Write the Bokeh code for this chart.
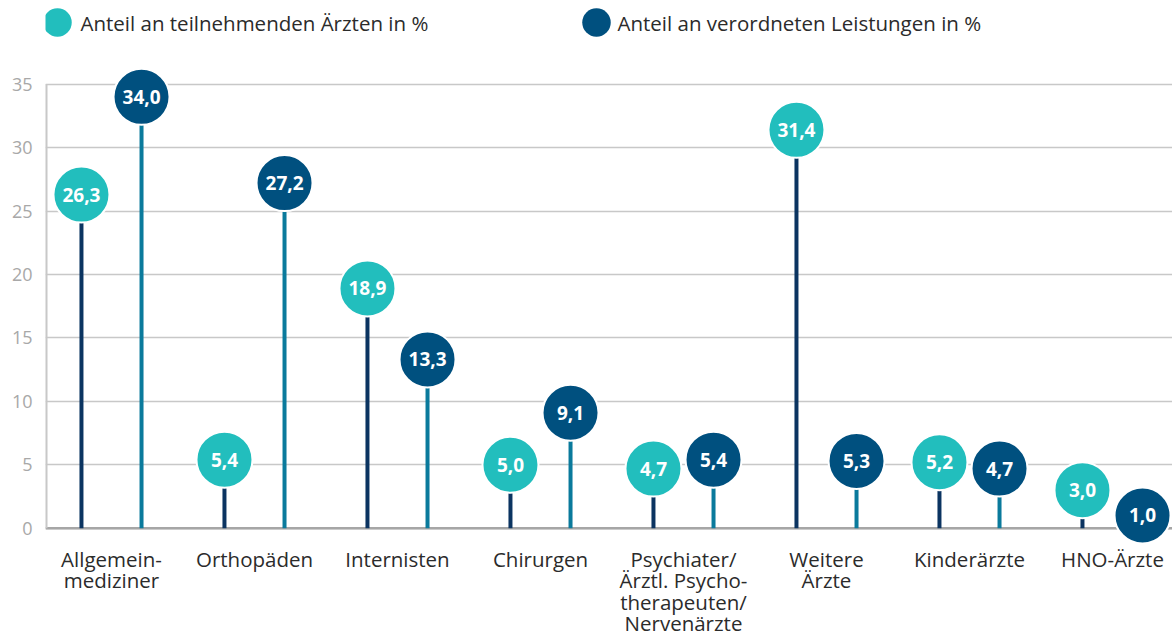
from bokeh.plotting import figure
from bokeh.models import FixedTicker, Range1d, Span
from bokeh.layouts import column
from bokeh.embed import file_html
from bokeh.resources import INLINE
from bokeh.core.properties import value
import numpy as np

# ---------------- data ----------------
categories = [
    "Allgemein-\nmediziner",
    "Orthopäden",
    "Internisten",
    "Chirurgen",
    "Psychiater/\nÄrztl. Psycho-\ntherapeuten/\nNervenärzte",
    "Weitere\nÄrzte",
    "Kinderärzte",
    "HNO-Ärzte",
]
anteil_aerzte = [26.3, 5.4, 18.9, 5.0, 4.7, 31.4, 5.2, 3.0]
anteil_leistungen = [34.0, 27.2, 13.3, 9.1, 5.4, 5.3, 4.7, 1.0]
series_names = ["Anteil an teilnehmenden Ärzten in %", "Anteil an verordneten Leistungen in %"]
y_ticks = [0, 5, 10, 15, 20, 25, 30, 35]

# ---------------- style ----------------
TEAL = "#22BEBD"
NAVY = "#00507F"
STEM_DARK = "#0B3461"
STEM_TEAL = "#0A7A9C"
FONT = "Open Sans"
TEXT = "#2B2B2B"

idx = np.arange(len(categories))
offset = 0.21
x_a = idx - offset
x_l = idx + offset

fmt = lambda v: f"{v:.1f}".replace(".", ",")

x_start, x_end = -0.4615, 7.4196
y_start, y_end = -1.286, 37.26

p = figure(
    width=1172, height=594,
    frame_width=1127, frame_height=489,
    x_range=Range1d(x_start, x_end), y_range=Range1d(y_start, y_end),
    output_backend="svg", toolbar_location=None,
    min_border_left=45, min_border_right=0, min_border_top=10, min_border_bottom=95,
)
p.outline_line_color = None
p.background_fill_color = "white"

# axes
p.xaxis.ticker = FixedTicker(ticks=list(idx))
p.xaxis.major_label_overrides = {int(i): c for i, c in zip(idx, categories)}
p.xaxis.axis_line_color = None
p.xaxis.major_tick_line_color = None
p.xaxis.major_tick_out = 0
p.xaxis.major_tick_in = 0
p.xaxis.minor_tick_line_color = None
p.xaxis.major_label_text_font = FONT
p.xaxis.major_label_text_font_size = "20.5px"
p.xaxis.major_label_text_color = TEXT
p.xaxis.major_label_standoff = 0
p.xaxis.major_label_text_line_height = 0.77

p.yaxis.ticker = FixedTicker(ticks=y_ticks)
p.yaxis.axis_line_color = None
p.yaxis.major_tick_line_color = None
p.yaxis.major_tick_out = 0
p.yaxis.major_tick_in = 0
p.yaxis.minor_tick_line_color = None
p.yaxis.major_label_text_font = FONT
p.yaxis.major_label_text_font_size = "18px"
p.yaxis.major_label_text_color = "#A8A8A8"
p.yaxis.major_label_standoff = 13

p.xgrid.grid_line_color = None
p.ygrid.ticker = FixedTicker(ticks=y_ticks)
p.ygrid.grid_line_color = "#C8C8C8"
p.ygrid.grid_line_width = 1.6

# baseline and left axis line
p.add_layout(Span(location=0, dimension="width", line_color="#A6A6A6", line_width=2.5, level="underlay"))
p.segment(x0=[x_start], y0=[0], x1=[x_start], y1=[y_ticks[-1]], line_color="#C8C8C8", line_width=4)

# stems
p.segment(x0=x_a, y0=0, x1=x_a, y1=anteil_aerzte, line_color=STEM_DARK, line_width=4)
p.segment(x0=x_l, y0=0, x1=x_l, y1=anteil_leistungen, line_color=STEM_TEAL, line_width=4)

# circles
p.scatter(x_a, anteil_aerzte, size=56, fill_color=TEAL, line_color="white", line_width=2)
p.scatter(x_l, anteil_leistungen, size=56, fill_color=NAVY, line_color="white", line_width=2)

# value labels
for xs, vals in ((x_a, anteil_aerzte), (x_l, anteil_leistungen)):
    p.text(xs, vals, text=[fmt(v) for v in vals], text_align="center", text_baseline="middle",
           text_font=value(FONT), text_font_style="bold", text_font_size="19px", text_color="white")

# ---------------- legend strip (frame aligned with the chart frame) ----------------
lg = figure(width=1172, height=45, frame_width=1127, x_range=Range1d(45, 1172), y_range=Range1d(0, 45),
            output_backend="svg", toolbar_location=None, min_border=0, min_border_left=45,
            x_axis_location=None, y_axis_location=None)
lg.grid.grid_line_color = None
lg.outline_line_color = None
lg.scatter([57, 596], [23, 23], size=28.5, fill_color=[TEAL, NAVY], line_color=None)
lg.text([80, 617], [23, 23], text=series_names, text_baseline="middle", text_align="left",
        text_font=value(FONT), text_font_size="20.5px", text_color=TEXT)

layout = column(lg, p, spacing=0)
open("out.html", "w").write(file_html(layout, INLINE))
